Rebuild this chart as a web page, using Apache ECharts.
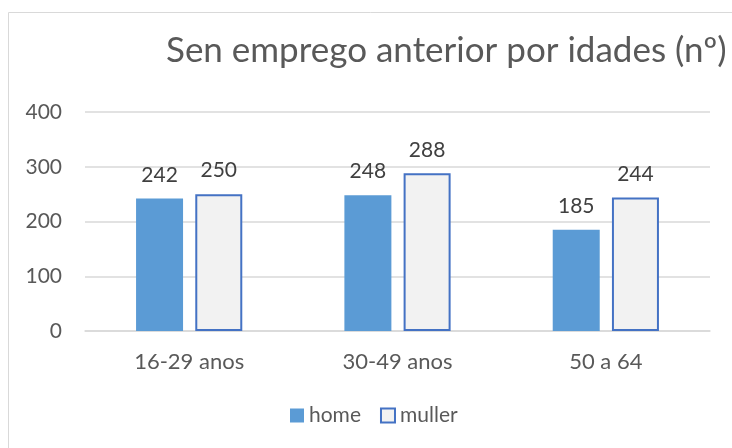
<!DOCTYPE html>
<html><head><meta charset="utf-8">
<script src="https://cdn.jsdelivr.net/npm/echarts@6/dist/echarts.min.js"></script>
<style>html,body{margin:0;padding:0;background:#fff}#c{width:732px;height:448px}</style>
</head><body><div id="c"></div>
<script>
const categories = ['16-29 anos', '30-49 anos', '50 a 64'];
const homeValues = [242, 248, 185];
const mullerValues = [250, 288, 244];
const yTicks = [0, 100, 200, 300, 400];
const titleText = 'Sen emprego anterior por idades (nº)';

const chart = echarts.init(document.getElementById('c'));
const font = 'Lato, "Open Sans", sans-serif';
chart.setOption({
  animation: false,
  graphic: [{
    type: 'rect', shape: {x: 8.5, y: 12.5, width: 760, height: 460},
    style: {fill: 'none', stroke: '#D9D9D9', lineWidth: 1}, silent: true
  }],
  title: {
    text: titleText, left: 161, top: 28,
    textStyle: {fontFamily: font, fontSize: 35, fontWeight: 'normal', color: '#595959'}
  },
  legend: {
    top: 405, left: 290, padding: 0, itemWidth: 14, itemHeight: 14, itemGap: 19,
    textStyle: {fontFamily: font, fontSize: 21, color: '#595959'},
    data: [
      {name: 'home', icon: 'rect'},
      {name: 'muller', icon: 'rect'}
    ]
  },
  grid: {left: 85, right: 22, top: 112, bottom: 117, containLabel: false},
  xAxis: {
    type: 'category', data: categories,
    axisLine: {lineStyle: {color: '#D9D9D9', width: 1.5}},
    axisTick: {show: false},
    axisLabel: {fontFamily: font, fontSize: 22, color: '#595959', margin: 20}
  },
  yAxis: {
    type: 'value', min: yTicks[0], max: yTicks[yTicks.length - 1], interval: 100,
    axisLine: {show: false}, axisTick: {show: false},
    splitLine: {lineStyle: {color: '#D9D9D9', width: 1.5}},
    axisLabel: {fontFamily: font, fontSize: 21, color: '#595959', margin: 23}
  },
  series: [{
    name: 'home', type: 'bar', data: homeValues, barWidth: 47, barGap: '26%',
    itemStyle: {color: '#5B9BD5'},
    label: {show: true, position: 'top', distance: 13, fontFamily: font, fontSize: 21, color: '#404040'}
  }, {
    name: 'muller', type: 'bar', data: mullerValues, barWidth: 47,
    itemStyle: {color: '#F2F2F2', borderColor: '#4472C4', borderWidth: 2},
    label: {show: true, position: 'top', distance: 13, fontFamily: font, fontSize: 21, color: '#404040'}
  }]
});
</script></body></html>
